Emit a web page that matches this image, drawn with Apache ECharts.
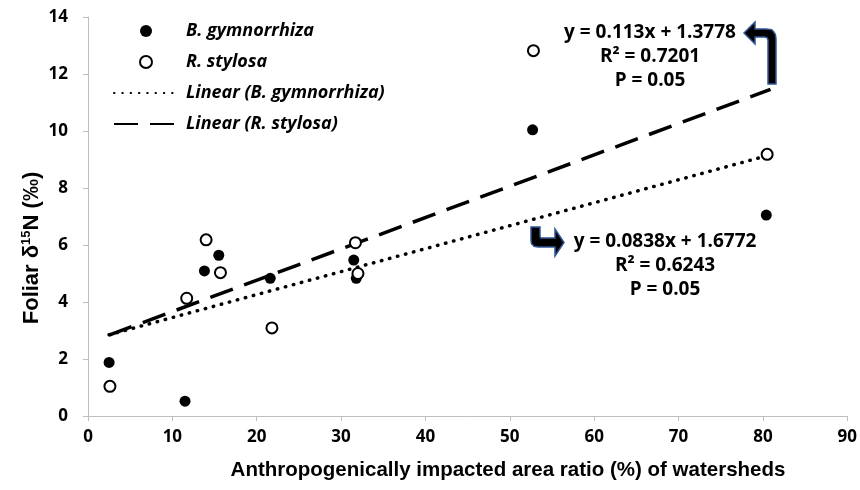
<!DOCTYPE html>
<html><head><meta charset="utf-8">
<script src="https://cdn.jsdelivr.net/npm/echarts@6/dist/echarts.min.js"></script>
<style>html,body{margin:0;padding:0;background:#fff}#c{width:860px;height:490px}</style>
</head><body><div id="c"></div>
<script>
// Data
const bGymnorrhiza = [[2.5,1.88],[11.5,0.52],[13.8,5.09],[15.5,5.64],[21.6,4.83],[31.5,5.47],[31.8,4.83],[52.7,10.04],[80.4,7.05]];
const rStylosa = [[2.6,1.04],[11.7,4.13],[14.0,6.18],[15.7,5.03],[21.8,3.09],[31.7,6.08],[32.0,5.0],[52.8,12.82],[80.5,9.18]];
const trendB = [[2.5,2.85],[80.7,9.15]];
const trendR = [[2.5,2.84],[80.9,11.46]];
const xTicks = [0,10,20,30,40,50,60,70,80,90];
const yTicks = [0,2,4,6,8,10,12,14];
const eqR = ['y = 0.113x + 1.3778','R² = 0.7201','P = 0.05'];
const eqB = ['y = 0.0838x + 1.6772','R² = 0.6243','P = 0.05'];
const xTitle = 'Anthropogenically impacted area ratio (%) of watersheds';

const FONT = '"Open Sans", Lato, sans-serif';
const chart = echarts.init(document.getElementById('c'), null, {renderer:'canvas'});
const eqText = (lines, cx, y0) => lines.map((t,i)=>({
  type:'text', x:cx, y:y0+i*24,
  style:{text:t, align:'center', verticalAlign:'middle', font:'bold 19px '+FONT, fill:'#000'}
}));
const arrowStyle = {fill:'#000', stroke:'#2F5597', lineWidth:1.5};
chart.setOption({
  animation:false,
  grid:{left:88, right:12, top:17, bottom:74},
  xAxis:{type:'value', min:xTicks[0], max:xTicks[xTicks.length-1], interval:10,
    axisLine:{show:true, lineStyle:{color:'#bfbfbf', width:1}},
    axisTick:{show:true, length:5, lineStyle:{color:'#bfbfbf'}},
    splitLine:{show:false},
    axisLabel:{margin:13, color:'#000', fontFamily:FONT, fontWeight:700, fontSize:17}
  },
  yAxis:{type:'value', min:yTicks[0], max:yTicks[yTicks.length-1], interval:2,
    axisLine:{show:true, lineStyle:{color:'#bfbfbf', width:1}},
    axisTick:{show:true, length:5, lineStyle:{color:'#bfbfbf'}},
    splitLine:{show:false},
    axisLabel:{margin:20, color:'#000', fontFamily:FONT, fontWeight:700, fontSize:17}
  },
  legend:{orient:'vertical', left:108, top:17, itemWidth:64, itemHeight:12, itemGap:13,
    textStyle:{fontFamily:FONT, fontWeight:700, fontStyle:'italic', fontSize:18, color:'#000', padding:[0,0,0,3]},
    data:['B. gymnorrhiza','R. stylosa','Linear (B. gymnorrhiza)','Linear (R. stylosa)']
  },
  series:[
    {name:'Linear (B. gymnorrhiza)', type:'line', data:trendB, symbol:'none', z:1, color:'#000',
      itemStyle:{color:'#000', opacity:0},
      lineStyle:{color:'#000', width:3.5, type:[0.5,7.8], cap:'round'}},
    {name:'Linear (R. stylosa)', type:'line', data:trendR, symbol:'none', z:1, color:'#000',
      itemStyle:{color:'#000', opacity:0},
      lineStyle:{color:'#000', width:3.5, type:[24,12], cap:'butt'}},
    {name:'B. gymnorrhiza', type:'scatter', data:bGymnorrhiza, symbol:'circle', symbolSize:11, z:3,
      itemStyle:{color:'#000', opacity:1}},
    {name:'R. stylosa', type:'scatter', data:rStylosa, symbol:'circle', symbolSize:11, z:4,
      itemStyle:{color:'#fff', borderColor:'#000', borderWidth:2, opacity:1}}
  ],
  graphic:[
    ...eqText(eqR, 650, 33),
    ...eqText(eqB, 665, 242),
    {type:'text', x:508, y:470, style:{text:xTitle, align:'center', verticalAlign:'middle',
      font:'bold 20.5px "Liberation Sans Narrow", "Liberation Sans", sans-serif', fill:'#000'}},
    {type:'text', x:32, y:248, rotation:Math.PI/2, style:{
      text:'{a|Foliar δ}{s|15}{a|N (‰)}', align:'center', verticalAlign:'middle',
      rich:{
        a:{fill:'#000', fontFamily:'"Liberation Sans", Arial, sans-serif', fontWeight:'bold', fontSize:22},
        s:{fill:'#000', fontFamily:'"Liberation Sans", Arial, sans-serif', fontWeight:'bold', fontSize:13, verticalAlign:'top', padding:[0,0,11,0]}
      }}},
    {type:'polygon', shape:{points:[[768,84],[768,40],[767.2,37.8],[765,37],[755,37],[755,44],[744,33],[755,22],[755,29],[766,29],[771.6,29.6],[773.5,31.5],[775.4,34.6],[776,39],[776,84]]},
      style:arrowStyle},
    {type:'polygon', shape:{points:[[531,227],[531,240],[531.4,243.5],[534,246.3],[538,247],[555,247],[555,256],[564,242.5],[555,229],[555,238],[541,238],[540.3,237.4],[540,236],[540,227]]},
      style:arrowStyle}
  ]
});
</script></body></html>
